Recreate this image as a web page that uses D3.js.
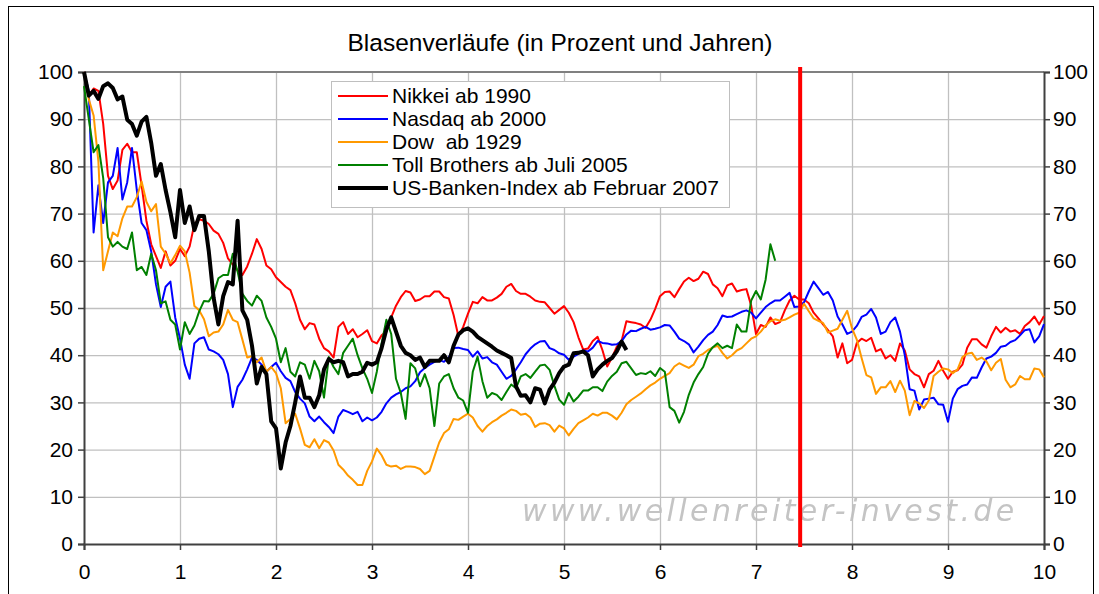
<!DOCTYPE html>
<html>
<head>
<meta charset="utf-8">
<script src="https://cdn.jsdelivr.net/npm/d3@7"></script>
<style>
  body { margin: 0; background: #fff; }
  svg { display: block; font-family: "Liberation Sans", Arial, sans-serif; }
</style>
</head>
<body>
<div id="chart"></div>
<script>
// Blasenverläufe - Werte alle 0,05 Jahre (Index in Prozent vom Hoch)
const step = 0.05;

const nikkei = [100,95,96.5,96,89,78,75.2,77,83.5,84.8,83,83,76,68.5,63.5,61,58.5,62,59,60,
  62.5,61,63,67.8,68.8,68.5,67.8,66.4,65.7,63.8,60.5,59.2,58,57,58.8,61.5,64.6,62.5,59,58.2,
  56.5,55.5,54.5,53.8,51,47.5,45.5,46.8,46.5,43.5,41.5,40.8,39.5,46,47,44.5,45.5,43.8,44.5,45.3,
  43,42.5,44.2,45,48,50.5,52.3,53.6,53.3,51.5,51.8,52.5,52.5,53.5,53.5,52.3,52,48.5,44,46,
  48.8,51.3,51,52.3,51.6,51.6,52.2,53,54.5,55.1,53.6,53,53,52.4,51.6,51.3,51.2,50,48.8,49.6,
  50.4,49,47,43.8,41.2,41.4,43,43.9,41.1,37.6,39.5,41.8,43,47.2,47,46.8,46.5,45.8,47.5,49.8,
  52.5,53.4,53.5,52.3,54,55.6,56.4,55.7,56.2,57.7,57.2,55,54.2,52.5,54.8,55.2,53.5,53.8,54,50.5,
  44.5,46.4,46,48,46.6,47,49.5,51.6,52.6,51.8,51.8,51,49,47.8,46.5,45.3,44,39.5,42.5,38.3,
  39,42.6,43.5,43,43.7,40.8,41.3,39.3,40,38.8,42.5,41,37,36,35.5,33.2,36,36.7,38.8,36.7,
  35,36.5,36.8,38,41.6,43.4,43.4,42.3,41.6,44,46,44.8,45.8,45,45.3,44.5,46.2,47,48.2,46.5,
  48.3];

const nasdaq = [100,96,66,76,68,76.6,78,83.9,73,76.6,83.9,75,68,66.5,62,55,50.2,54.5,55.6,48,
  43.5,38,35,42.5,43.5,43.8,41.2,40.8,40.2,39,36,29,33.3,34.8,37,39.5,39,38,36.5,37.5,
  38.4,36.6,35.2,34.5,32.2,30.8,29.8,27,26,27,25.8,24.8,23.5,27,28.4,28,27.5,28,26,26.8,
  26.2,26.8,28,29.8,31,31.7,32.2,33,33.4,34.5,36.4,37.3,38,38.6,39,38.6,39.5,41.5,41.6,41.3,
  41.1,39.7,40.8,39.3,39.6,38.5,38,36.5,35,35.6,37,38.5,40.2,41.4,42.3,42.9,43,41.5,41.1,40.4,
  40.1,39,39.7,40.3,41,40.8,41.6,43,42.6,42.5,42.2,42.3,43,44.4,45.2,45.1,45.6,46,45.4,45.6,
  45.9,46.4,46.3,45,43.5,43,42.3,40.6,41.8,43.2,44.3,45,46.4,48.4,48.1,48.2,48.7,49.2,49.5,49,
  47.8,49,50.2,51,51.6,51.6,52.4,53.2,50.2,50.3,51.2,53.5,55.6,54.2,52.8,53.4,51.6,48.2,46.5,44.5,
  45,46.2,48.1,48.6,49.8,48,44.5,45,47,48,45,40,32.8,32.5,28.5,30.6,30.8,31,29.6,29.5,
  25.9,30.8,32.8,33.5,33.8,35.3,35.2,37.4,39.3,39.7,40.5,41.8,42,42.8,43.2,44.2,45.3,45.5,42.7,44,
  46.6];

const dow = [100,94.2,90.8,81,58,62,66,65.2,69,71.5,71.5,73.5,76.8,72.5,70.5,72,63,61.5,59.5,61.2,
  63.2,62,57.5,50.4,49.5,47.6,44,44.8,45,46.5,49.6,47.5,47,43.3,39.5,39.8,38.5,39.5,36.5,37.5,
  36.2,33,25.6,26.5,27.6,24.5,21,20.5,22.2,20.3,22,21.5,19.8,16.8,15.8,14.5,13.6,12.5,12.5,15.5,
  17.5,20.2,18.8,16.8,16.4,16.6,15.9,16.4,16.4,16.3,15.9,14.8,15.5,18.5,21.5,23.5,24.3,26.5,26.3,27,
  27.6,26.8,25,23.8,25,25.8,26.4,27.2,27.8,28.5,28.2,27.4,27.6,26.8,24.8,25.5,25.6,25.2,23.8,25.1,
  24.5,23,24.4,25.6,26.2,26.8,27.6,27.2,27.8,27.8,27.2,26.4,27.8,29.6,30.5,31.2,31.9,32.8,33.6,34.2,
  35,35.6,36.2,37.6,38.3,37.8,37.3,38,39.8,40.3,41.1,41.6,42,40.5,39.3,40,41,41.5,42.5,43.5,
  44,45,46.3,47.2,47.6,47.3,47.5,48,48.6,49,50.9,49.3,47.8,47.3,46.8,44.8,45.2,45.6,47.5,49.4,
  45.7,43.3,39.4,35.8,35.3,31.8,33.2,33.2,34.5,32.2,34.6,32.5,27.3,30.3,29.8,28.8,30.4,35.6,36.5,37.2,
  37,36.2,37,39.6,40.3,40.5,39,39.5,38.7,36.8,38.4,39.2,34.8,33.2,33.8,35.6,34.9,34.9,37.2,37,
  35.3];

const toll = [97,90,83,84.5,77.5,65,63,64,63,62.5,66,58,58.7,57,61.5,58,51,51.4,47.5,46.5,
  41.2,47,44.5,46.3,49.3,51.5,51.4,53,56.3,57,57,61.5,57.7,53,51.5,50.5,52.6,51.5,48,46,
  43.5,38.5,41.5,36.5,35.5,38.5,38,35,38.8,36.6,31,39.6,37.5,36,40.5,42,43.5,40,37.2,35,
  32,36.5,42.5,47.5,44.5,35,32,26.5,38.3,37.2,33.4,36,33,25,34,35.5,36,33,31,30.4,
  27.8,36.5,39.7,34.5,31,32,31.6,30.5,32.2,33.8,33,35.5,36,35.2,36.5,37.8,38,36.9,33.5,30.6,
  29.5,32,30.2,31.2,32.5,32.5,33.2,33.2,32.4,34.4,35.6,36.5,38.3,38.6,37.2,35.8,36.2,36,36.6,35.6,
  37.3,36.5,29,28.2,25.7,28,31.6,34.2,36,37.5,40.3,41.7,42.5,41.5,42,41.5,46.5,45,45,51.6,
  53.6,51.8,56,63.5,60];

const banken = [100,95,96,94.3,97,97.6,96.6,94.2,94.8,89.9,89,86.5,89.5,90.5,85,78,80.5,75,70.3,65,
  75,68,71.5,66.5,69.5,69.5,62,52.2,46.5,52.5,55.5,55,68.5,49.5,47.5,42,34,37.5,36,26,
  24.5,16,21.5,25,30,35.5,31,31,29,31.5,37,39.2,38.5,38.8,38.5,35.5,36,36,36.5,38.4,
  38,38.5,41.5,45.5,48,45,42,40.5,40,39,39.5,37.5,38.8,38.8,38.8,40,38.5,42,44.4,45.3,
  45.7,45,43.9,43.2,42.5,41.8,41,40.5,40,39.4,33.4,31.4,31.5,30,33,32.7,29.8,32.7,34.2,36.2,
  37.6,38,40.4,40.5,40.8,40,35.5,37,38,38.8,39.4,40.8,42.9,41.1];

const seriesNames = ["Nikkei ab 1990", "Nasdaq ab 2000", "Dow  ab 1929",
  "Toll Brothers ab Juli 2005", "US-Banken-Index ab Februar 2007"];
const seriesData = [nikkei, nasdaq, dow, toll, banken];
const seriesColors = ["#ff0000", "#0000ff", "#ff9900", "#008000", "#000000"];
const seriesWidths = [2, 2, 2, 2, 4];

const xTicks = [0, 1, 2, 3, 4, 5, 6, 7, 8, 9, 10];
const yTicks = [0, 10, 20, 30, 40, 50, 60, 70, 80, 90, 100];
const markerYear = 7.46; // rote Linie

const width = 1099, height = 594;
const x = d3.scaleLinear().domain([0, 10]).range([84, 1044]);
const y = d3.scaleLinear().domain([0, 100]).range([544, 72]);

const svg = d3.select("#chart").append("svg")
  .attr("width", width)
  .attr("height", height);

const defs = svg.append("defs");
defs.append("filter").attr("id", "soft")
  .append("feGaussianBlur").attr("stdDeviation", 0.7);

// Rahmen
svg.append("rect")
  .attr("x", 8.5).attr("y", 6.5)
  .attr("width", 1085).attr("height", 620)
  .attr("fill", "#fff")
  .attr("stroke", "#000")
  .attr("stroke-width", 1);

// Titel
svg.append("text")
  .attr("x", 560).attr("y", 51)
  .attr("text-anchor", "middle")
  .attr("font-size", "24.5px")
  .text("Blasenverläufe (in Prozent und Jahren)");

// Wasserzeichen (liegt unter dem Gitter)
svg.append("text")
  .attr("x", 522).attr("y", 521)
  .attr("font-family", "DejaVu Sans, Verdana, sans-serif")
  .attr("font-style", "italic")
  .attr("font-size", "30px")
  .attr("letter-spacing", "3.4px")
  .attr("fill", "#c4c4c4")
  .attr("filter", "url(#soft)")
  .text("www.wellenreiter-invest.de");

// Gitter
svg.append("g").selectAll("line")
  .data(yTicks.filter(d => d > 0 && d < 100))
  .enter().append("line")
  .attr("x1", x(0)).attr("x2", x(10))
  .attr("y1", d => y(d) + 0.5).attr("y2", d => y(d) + 0.5)
  .attr("stroke", "#c0c0c0").attr("stroke-width", 1.3);

svg.append("g").selectAll("line")
  .data(xTicks.filter(d => d > 0 && d < 10))
  .enter().append("line")
  .attr("x1", d => x(d) + 0.5).attr("x2", d => x(d) + 0.5)
  .attr("y1", y(100)).attr("y2", y(0))
  .attr("stroke", "#c0c0c0").attr("stroke-width", 1.3);

// oberer Rand
svg.append("line")
  .attr("x1", x(0)).attr("x2", x(10))
  .attr("y1", y(100)).attr("y2", y(100))
  .attr("stroke", "#808080").attr("stroke-width", 2);

// Achsen
const axisColor = "#404040";
const left = svg.append("g").attr("transform", `translate(${x(0)},0)`)
  .call(d3.axisLeft(y).tickValues(yTicks).tickSize(6).tickPadding(5));
const right = svg.append("g").attr("transform", `translate(${x(10)},0)`)
  .call(d3.axisRight(y).tickValues(yTicks).tickSize(6).tickPadding(3));
const bottom = svg.append("g").attr("transform", `translate(0,${y(0)})`)
  .call(d3.axisBottom(x).tickValues(xTicks).tickSize(6).tickPadding(14));

[left, right, bottom].forEach(g => {
  g.select(".domain").attr("stroke", axisColor).attr("stroke-width", 2);
  g.selectAll(".tick line").attr("stroke", axisColor).attr("stroke-width", 1.5);
  g.selectAll(".tick text")
    .attr("font-family", "Liberation Sans, Arial, sans-serif")
    .attr("font-size", "21px")
    .attr("fill", "#000");
});

// Linien
const line = d3.line()
  .x((d, i) => x(i * step))
  .y(d => y(d));

svg.append("g").selectAll("path")
  .data(seriesData)
  .enter().append("path")
  .attr("d", d => line(d))
  .attr("fill", "none")
  .attr("stroke", (d, i) => seriesColors[i])
  .attr("stroke-width", (d, i) => seriesWidths[i])
  .attr("stroke-linejoin", "round");

// rote Markierung
svg.append("line")
  .attr("x1", x(markerYear)).attr("x2", x(markerYear))
  .attr("y1", 67).attr("y2", 547)
  .attr("stroke", "#ff0000").attr("stroke-width", 4);

// Legende
const legend = svg.append("g").attr("transform", "translate(331,81)");
legend.append("rect")
  .attr("x", 0.5).attr("y", 0.5)
  .attr("width", 398).attr("height", 126)
  .attr("fill", "#fff")
  .attr("stroke", "#bfbfbf");

const items = legend.selectAll("g.item")
  .data(seriesNames)
  .enter().append("g")
  .attr("class", "item")
  .attr("transform", (d, i) => `translate(0,${15 + i * 23})`);

items.append("line")
  .attr("x1", 7).attr("x2", 57)
  .attr("y1", 0).attr("y2", 0)
  .attr("stroke", (d, i) => seriesColors[i])
  .attr("stroke-width", (d, i) => seriesWidths[i]);

items.append("text")
  .attr("x", 61).attr("y", 0)
  .attr("dy", "0.35em")
  .attr("font-size", "21px")
  .style("white-space", "pre")
  .attr("xml:space", "preserve")
  .text(d => d);
</script>
</body>
</html>
